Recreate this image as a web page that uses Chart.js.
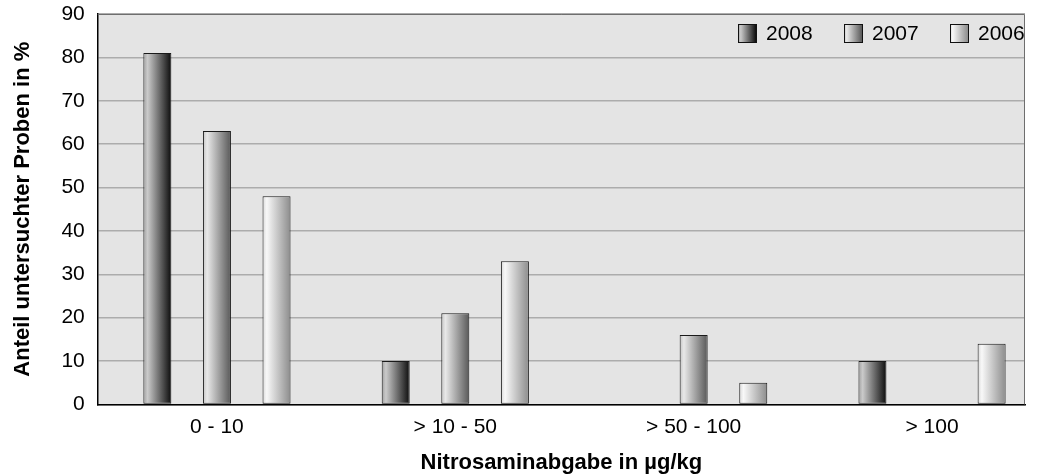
<!DOCTYPE html>
<html>
<head>
<meta charset="utf-8">
<script src="https://cdn.jsdelivr.net/npm/chart.js@4.4.0/dist/chart.umd.min.js"></script>
<style>
  body { margin: 0; background: #fff; }
  #wrap { width: 1038px; height: 476px; }
</style>
</head>
<body>
<div id="wrap"><canvas id="bar" width="1038" height="476"></canvas></div>
<script>
const categories = ["0 - 10", "> 10 - 50", "> 50 - 100", "> 100"];
const years = ["2008", "2007", "2006"];
const values2008 = [81, 10, 0, 10];
const values2007 = [63, 21, 16, 0];
const values2006 = [48, 33, 5, 14];

// gradient stops per year (left -> right)
const shades = [
    ["#a0a0a0", "#cacaca", "#0c0c0c"],
    ["#c4c4c4", "#e8e8e8", "#585858"],
    ["#d8d8d8", "#f8f8f8", "#8c8c8c"]
];

function makeGradient(ctx, x0, x1, s) {
    const g = ctx.createLinearGradient(x0, 0, x1, 0);
    g.addColorStop(0, s[0]);
    g.addColorStop(0.15, s[1]);
    g.addColorStop(1, s[2]);
    return g;
}

const font = "'Liberation Sans', Arial, sans-serif";

const plotPlugin = {
    id: "plotPlugin",
    beforeDraw(chart) {
        const ctx = chart.ctx;
        const a = chart.chartArea;
        ctx.save();
        ctx.fillStyle = "#e4e4e4";
        ctx.fillRect(a.left, a.top, a.right - a.left, a.bottom - a.top);
        ctx.restore();
    },
    beforeDatasetsDraw(chart) {
        const ctx = chart.ctx;
        chart.data.datasets.forEach((ds, i) => {
            chart.getDatasetMeta(i).data.forEach((bar) => {
                const x0 = bar.x - bar.width / 2;
                const x1 = bar.x + bar.width / 2;
                // own options object per bar, the resolved one is shared
                bar.options = Object.assign({}, bar.options, {
                    backgroundColor: makeGradient(ctx, x0, x1, shades[i])
                });
            });
        });
    },
    afterDraw(chart) {
        const ctx = chart.ctx;
        const a = chart.chartArea;
        ctx.save();
        ctx.strokeStyle = "#6e6e6e";
        ctx.lineWidth = 1;
        ctx.beginPath();
        ctx.moveTo(a.left, a.top + 0.5);
        ctx.lineTo(a.right - 0.5, a.top + 0.5);
        ctx.lineTo(a.right - 0.5, a.bottom);
        ctx.stroke();

        // legend inside plot, top right
        ctx.font = "21px " + font;
        ctx.textBaseline = "middle";
        years.forEach((y, i) => {
            const bx = a.right - 287 + i * 106;
            const by = 24;
            ctx.fillStyle = makeGradient(ctx, bx, bx + 18, shades[i]);
            ctx.fillRect(bx, by, 18, 18);
            ctx.strokeStyle = "#111";
            ctx.strokeRect(bx + 0.5, by + 0.5, 18, 18);
            ctx.fillStyle = "#000";
            ctx.fillText(y, bx + 28, by + 10);
        });
        ctx.restore();
    }
};

// linear x so the group spacing can run a bit past the right edge, like the original
const makeSet = (label, values) => ({
    label: label,
    data: values.map((v, i) => ({ x: i, y: v })),
    backgroundColor: "#999",
    borderColor: "#1a1a1a",
    borderWidth: 1,
    borderSkipped: false,
    categoryPercentage: 0.75,
    barPercentage: 0.47
});

new Chart(document.getElementById("bar"), {
    type: "bar",
    data: {
        datasets: [
            makeSet(years[0], values2008),
            makeSet(years[1], values2007),
            makeSet(years[2], values2006)
        ]
    },
    plugins: [plotPlugin],
    options: {
        responsive: false,
        animation: false,
        layout: { padding: { top: 14, right: 13, left: 10, bottom: 0 } },
        plugins: {
            legend: { display: false },
            tooltip: { enabled: false }
        },
        scales: {
            y: {
                min: 0,
                max: 90,
                afterFit(s) {
                    s.paddingTop = 0;
                    s.paddingBottom = 0;
                },
                ticks: {
                    stepSize: 10,
                    color: "#000",
                    padding: 13,
                    font: { size: 21, family: font }
                },
                grid: {
                    color: "#acacac",
                    lineWidth: 1.5,
                    drawTicks: false
                },
                border: { display: true, color: "#000", width: 1.5 },
                title: {
                    display: true,
                    text: "Anteil untersuchter Proben in %",
                    color: "#000",
                    padding: { top: 0, bottom: 12 },
                    font: { size: 22, weight: "bold", family: font }
                }
            },
            x: {
                type: "linear",
                offset: false,
                min: -0.5,
                max: 3.39,
                afterFit(s) {
                    s.paddingLeft = 0;
                    s.paddingRight = 0;
                },
                ticks: {
                    stepSize: 1,
                    includeBounds: false,
                    autoSkip: false,
                    maxRotation: 0,
                    color: "#000",
                    padding: 2,
                    font: { size: 21, family: font },
                    callback: (v) => Number.isInteger(v) ? categories[v] : ""
                },
                grid: { display: false },
                border: { display: true, color: "#000", width: 1.5 },
                title: {
                    display: true,
                    text: "Nitrosaminabgabe in µg/kg",
                    color: "#000",
                    padding: { top: 8, bottom: 0 },
                    font: { size: 22, weight: "bold", family: font }
                }
            }
        }
    }
});
</script>
</body>
</html>
